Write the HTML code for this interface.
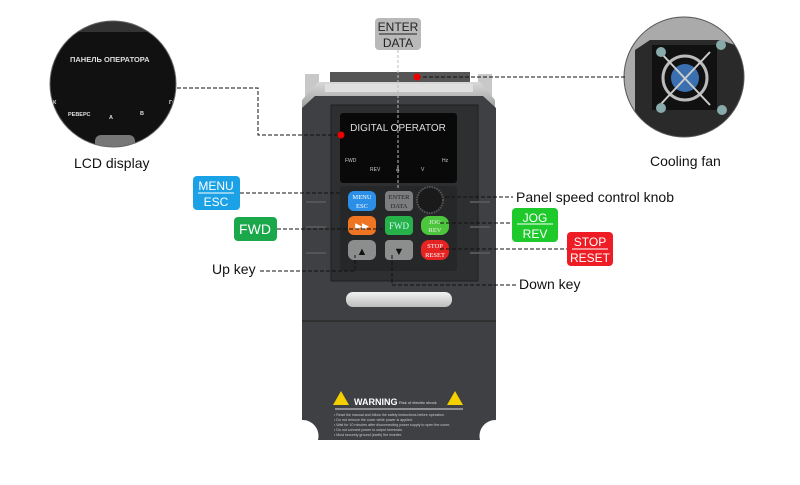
<!DOCTYPE html>
<html><head><meta charset="utf-8"><style>
body{margin:0;background:#fff;width:800px;height:480px;overflow:hidden}
text{font-family:"Liberation Sans",sans-serif}
.sf text{font-family:"Liberation Serif",serif}
</style></head><body>
<svg width="800" height="480" viewBox="0 0 800 480" xmlns="http://www.w3.org/2000/svg">
<defs>
<linearGradient id="top" x1="0" y1="0" x2="0" y2="1"><stop offset="0" stop-color="#d8d8d8"/><stop offset="1" stop-color="#9a9a9a"/></linearGradient>
<linearGradient id="hd" x1="0" y1="0" x2="0" y2="1"><stop offset="0" stop-color="#f2f2f2"/><stop offset="1" stop-color="#bdbdbd"/></linearGradient>
<clipPath id="cl"><circle cx="113" cy="84" r="63"/></clipPath>
<clipPath id="cr"><circle cx="684" cy="77" r="60"/></clipPath>
</defs>
<!-- device -->
<rect x="305" y="74" width="14" height="28" fill="#c8c8c8"/>
<rect x="478" y="74" width="14" height="28" fill="#c8c8c8"/>
<rect x="330" y="72" width="140" height="10" fill="#555"/>
<path d="M318 82 H480 L495 100 V110 H302 V100 Z" fill="url(#top)"/>
<rect x="325" y="84" width="148" height="8" fill="#e0e0e0"/>
<path d="M302 108 L315 96 H483 L496 108 V440 H302 Z" fill="#3e4043"/>
<path d="M302 420 a16 16 0 0 1 16 20 H302Z" fill="#fff"/>
<path d="M496 420 a16 16 0 0 0 -16 20 H496Z" fill="#fff"/>
<line x1="302" y1="321" x2="496" y2="321" stroke="#2a2a2a" stroke-width="1.5"/>
<rect x="331" y="105" width="147" height="176" fill="#2e2f31" stroke="#1f1f20"/>
<rect x="340" y="113" width="117" height="70" rx="3" fill="#090909"/>
<text x="398" y="131" font-size="10" fill="#ddd" text-anchor="middle">DIGITAL OPERATOR</text>
<g font-size="5" fill="#ccc"><text x="345" y="162">FWD</text><text x="370" y="171">REV</text><text x="396" y="171">A</text><text x="421" y="171">V</text><text x="442" y="162">Hz</text></g>
<rect x="340" y="186" width="117" height="85" rx="3" fill="#262729"/>
<g class="sf" font-size="6.5" text-anchor="middle">
<rect x="348" y="191" width="28" height="20" rx="6" fill="#2b8fe8"/><text x="362" y="199" fill="#fff">MENU</text><text x="362" y="208" fill="#fff">ESC</text>
<rect x="385" y="191" width="28" height="20" rx="4" fill="#7b7d7e"/><text x="399" y="199" fill="#222">ENTER</text><text x="399" y="208" fill="#222">DATA</text>
<circle cx="430" cy="200" r="13" fill="#1a1a1a" stroke="#555" stroke-width="2" stroke-dasharray="1.5,1"/>
<rect x="348" y="216" width="28" height="19" rx="6" fill="#f07522"/><text x="362" y="229" fill="#fff" font-size="9">▶▶</text>
<rect x="385" y="216" width="28" height="19" rx="4" fill="#27b14b"/><text x="399" y="229" fill="#cfe" font-size="9">FWD</text>
<rect x="421" y="216" width="28" height="19" rx="8" fill="#4cc63c"/><text x="435" y="224" fill="#eee">JOG</text><text x="435" y="232" fill="#eee">REV</text>
<rect x="348" y="240" width="28" height="20" rx="6" fill="#8c8e8d"/><text x="362" y="255" fill="#111" font-size="11">▲</text>
<rect x="385" y="240" width="28" height="20" rx="4" fill="#8c8e8d"/><text x="399" y="255" fill="#111" font-size="11">▼</text>
<rect x="421" y="240" width="28" height="20" rx="8" fill="#e52322"/><text x="435" y="248" fill="#fff">STOP</text><text x="435" y="257" fill="#fff">RESET</text>
</g>
<g fill="none" stroke="#555" stroke-width="2"><line x1="306" y1="202" x2="326" y2="202"/><line x1="306" y1="227" x2="326" y2="227"/><line x1="306" y1="253" x2="326" y2="253"/><line x1="470" y1="202" x2="490" y2="202"/><line x1="470" y1="227" x2="490" y2="227"/><line x1="470" y1="253" x2="490" y2="253"/></g>
<rect x="346" y="292" width="106" height="15" rx="7" fill="url(#hd)"/>
<g fill="#f5d000"><path d="M341 391 l-8 14 h16z"/><path d="M455 391 l-8 14 h16z"/></g>
<text x="354" y="405" font-size="9" font-weight="bold" fill="#fff">WARNING</text>
<text x="399" y="404" font-size="4" fill="#ddd">Risk of electric shock</text>
<line x1="335" y1="409" x2="463" y2="409" stroke="#ddd"/>
<g font-size="3.6" fill="#ccc"><text x="334" y="416">• Read the manual and follow the safety instructions before operation.</text><text x="334" y="421">• Do not remove the cover while power is applied.</text><text x="334" y="426">• Wait for 10 minutes after disconnecting power supply to open the cover.</text><text x="334" y="431">• Do not connect power to output terminals.</text><text x="334" y="436">• Must securely ground (earth) the inverter.</text></g>
<!-- circles -->
<g clip-path="url(#cl)"><rect x="40" y="10" width="150" height="150" fill="#111"/><rect x="40" y="10" width="150" height="22" fill="#333"/><rect x="95" y="135" width="40" height="15" rx="6" fill="#777"/>
<text x="70" y="62" font-size="7.5" font-weight="bold" fill="#ddd">ПАНЕЛЬ ОПЕРАТОРА</text>
<g font-size="5.5" font-weight="bold" fill="#ddd"><text x="53" y="104">К</text><text x="68" y="116">РЕВЕРС</text><text x="109" y="119">А</text><text x="140" y="115">В</text><text x="169" y="104">Гц</text></g></g>
<circle cx="113" cy="84" r="63" fill="none" stroke="#666"/>
<g clip-path="url(#cr)"><rect x="620" y="15" width="130" height="130" fill="#2a2a2a"/><path d="M620 15 H750 V50 L720 40 H650 L635 50 V140 H620Z" fill="#aaa"/>
<rect x="652" y="45" width="65" height="65" fill="#111"/><circle cx="685" cy="78" r="22" fill="none" stroke="#bbb" stroke-width="3"/><circle cx="685" cy="78" r="14" fill="#3a6fb0"/>
<line x1="660" y1="52" x2="710" y2="105" stroke="#ccc" stroke-width="2"/><line x1="710" y1="52" x2="660" y2="105" stroke="#ccc" stroke-width="2"/>
<g fill="#8aa"><circle cx="661" cy="52" r="5"/><circle cx="721" cy="45" r="5"/><circle cx="661" cy="108" r="5"/><circle cx="722" cy="110" r="5"/></g></g>
<circle cx="684" cy="77" r="60" fill="none" stroke="#555"/>
<!-- connectors -->
<g fill="none" stroke="#111" stroke-width="1" stroke-dasharray="4,2">
<polyline points="177,88 258,88 258,135 340,135"/>
<line x1="417" y1="77" x2="625" y2="77"/>
<polyline points="240,193 340,193"/>
<line x1="277" y1="229" x2="385" y2="229"/>
<line x1="445" y1="197" x2="513" y2="197"/>
<line x1="440" y1="223" x2="512" y2="223"/>
<line x1="440" y1="249" x2="567" y2="249"/>
<polyline points="260,271 355,271 355,255"/>
<polyline points="392,255 392,285 516,285"/>
</g>
<line x1="398" y1="50" x2="398" y2="190" stroke="#bbb" stroke-dasharray="3,2"/>
<circle cx="341" cy="135" r="3.5" fill="#e00"/><circle cx="417" cy="77" r="3.5" fill="#e00"/>
<!-- labels -->
<g font-size="12" text-anchor="middle">
<rect x="375" y="18" width="46" height="32" rx="4" fill="#b9b9b9"/><text x="398" y="31" fill="#222">ENTER</text><line x1="379" y1="34" x2="417" y2="34" stroke="#222"/><text x="398" y="47" fill="#222">DATA</text>
<rect x="193" y="176" width="47" height="34" rx="4" fill="#1ba2e6"/><text x="216" y="190" fill="#fff">MENU</text><line x1="198" y1="193" x2="234" y2="193" stroke="#fff"/><text x="216" y="206" fill="#fff">ESC</text>
<rect x="234" y="217" width="43" height="24" rx="4" fill="#1aa84b"/><text x="255" y="234" fill="#fff" font-size="14">FWD</text>
<rect x="512" y="208" width="46" height="34" rx="4" fill="#1ec92c"/><text x="535" y="222" fill="#fff">JOG</text><line x1="517" y1="224" x2="553" y2="224" stroke="#fff"/><text x="535" y="238" fill="#fff">REV</text>
<rect x="567" y="232" width="46" height="34" rx="4" fill="#ee1c24"/><text x="590" y="246" fill="#fff">STOP</text><line x1="572" y1="249" x2="608" y2="249" stroke="#fff"/><text x="590" y="262" fill="#fff">RESET</text>
</g>
<g font-size="14" fill="#111"><text x="516" y="202">Panel speed control knob</text><text x="212" y="274">Up key</text><text x="519" y="289">Down key</text><text x="74" y="168">LCD display</text><text x="650" y="166">Cooling fan</text></g>
</svg>
</body></html>
